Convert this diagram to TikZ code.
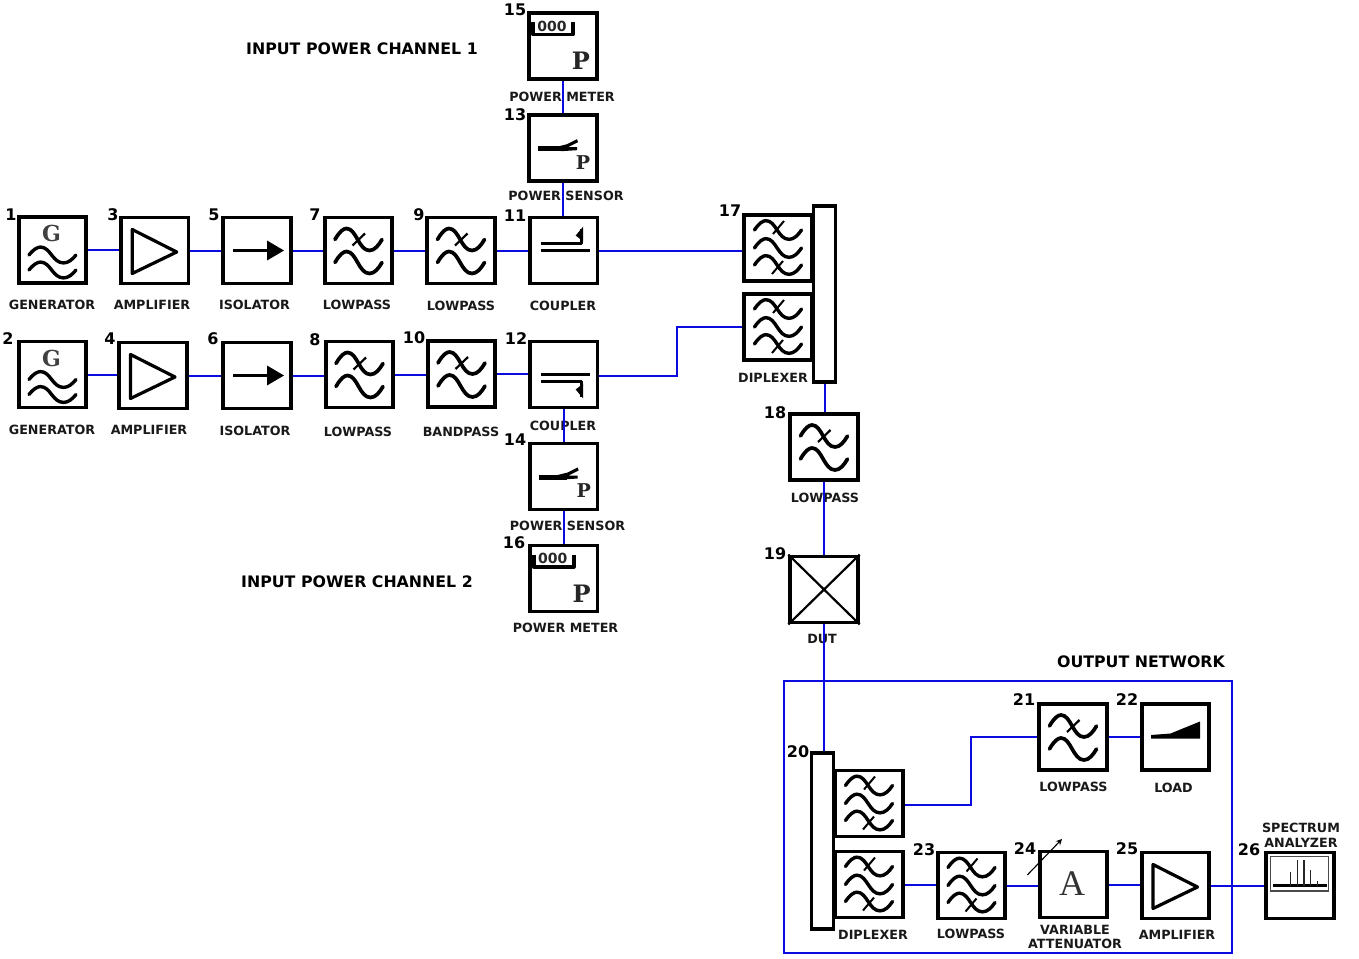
\documentclass[tikz,border=0pt]{standalone}
\usepackage{fontspec}
\setmainfont{DejaVu Sans}
\newfontfamily\glyphserif{DejaVu Serif}
\newfontfamily\timesface{Liberation Serif}
\usetikzlibrary{arrows.meta}
\definecolor{wire}{RGB}{10,10,225}
\newcommand{\wavecurve}{(-23.5,0) .. controls (-19,-8) and (-15,-11) .. (-12,-11) .. controls (-2,-11) and (0,11) .. (11,11) .. controls (16,11) and (20,6) .. (23.5,0)}
\tikzset{
  x=1pt,y=-1pt,
  blk/.style={draw=black,fill=white,line width=3.8pt,minimum width=67.5pt,minimum height=66pt,inner sep=0pt},
  barblk/.style={draw=black,fill=white,line width=3.6pt,minimum width=22pt,inner sep=0pt},
  wirel/.style={draw=wire,line width=2pt},
  framel/.style={draw=wire,line width=1.7pt},
  capt/.style={font=\bfseries\fontsize{12.7}{14.8}\selectfont,inner sep=0pt,align=center,text=black!90},
  numt/.style={font=\bfseries\fontsize{16}{18}\selectfont,inner sep=0pt},
  titlet/.style={font=\bfseries\fontsize{15.8}{18}\selectfont,inner sep=0pt},
  glyph/.style={draw=black,line width=3.2pt,line join=round},
  wavy/.style={draw=black,line width=3.7pt,line cap=round,line join=round},
  pics/lowwave/.style={code={
    \draw[wavy] [shift={(0,-11)}] \wavecurve;
    \draw[wavy] [shift={(0,12)}] \wavecurve;
    \draw[black,line width=2.2pt] (-6,-5) -- (6.5,-17);
  }},
  pics/triplewave/.style={code={
    \draw[wavy,line width=3.4pt] [shift={(0,-18)},yscale=.85] \wavecurve;
    \draw[wavy,line width=3.4pt] [shift={(0,0)},yscale=.85] \wavecurve;
    \draw[wavy,line width=3.4pt] [shift={(0,17)},yscale=.85] \wavecurve;
    \draw[black,line width=2pt] (-5,-14) -- (6,-27);
    \draw[black,line width=2pt] (-6,26) -- (5,13);
  }},
  pics/genglyph/.style={code={
    \node[inner sep=0pt,font=\glyphserif\bfseries\fontsize{22}{22}\selectfont,text=black!75] (-g) at (-1,-16.5) {G};
    \draw[wavy,line width=3.4pt] [shift={(0,5)},yscale=.72] \wavecurve;
    \draw[wavy,line width=3.4pt] [shift={(0,20)},yscale=.72] \wavecurve;
  }},
  pics/ampglyph/.style={code={
    \draw[glyph] (-22.5,-21) -- (-22.5,23) -- (22,1.5) -- cycle;
  }},
  pics/isoglyph/.style={code={
    \draw[black,line width=3.2pt] (-24,0) -- (12,0);
    \fill[black] (10,-10) -- (27,0) -- (10,10) -- cycle;
  }},
  pics/couplerglyph/.style={code={
    \draw[black,line width=3pt] (-23,0) -- (26,0);
    \draw[glyph,line width=3pt] (-23,-7) -- (18,-7) -- (18,-22);
    \fill[black] (19.5,-24) -- (12,-15) -- (19.5,-9) -- cycle;
  }},
  pics/sensorglyph/.style={code={
    \draw[black,line width=5pt] (-25,.5) -- (3,.5);
    \fill[black] (-8,-1) -- (4,-4) -- (14,-9) -- (15,-6) -- (5,-1) -- (14,-1) -- (14,2) -- (-2,3) -- cycle;
    \node[inner sep=0pt,font=\glyphserif\bfseries\fontsize{19}{19}\selectfont,text=black!85] (-p) at (20,14.5) {P};
  }},
  pics/meterglyph/.style={code={
    \draw[glyph,line width=3.6pt] (-30,-24) -- (-30,-11.5) -- (10,-11.5) -- (10,-24);
    \node[inner sep=0pt,font=\bfseries\fontsize{14}{14}\selectfont,text=black!85] (-d) at (-11,-20) {000};
    \node[inner sep=0pt,font=\glyphserif\bfseries\fontsize{24}{24}\selectfont,text=black!85] (-p) at (18,15) {P};
  }},
  pics/loadglyph/.style={code={
    \fill[black] (-24.5,-2) -- (-24.5,1.5) -- (24.5,1.5) -- (24.5,-15.5) -- (-5,-3.5) -- cycle;
  }},
  pics/analyzerglyph/.style={code={
    \draw[black!70,line width=1.6pt] (-29.5,-29) rectangle (28.5,5.5);
    \draw[black,line width=3.2pt] (-27,0) -- (27,0);
    \draw[black!85,line width=1.5pt] (-9.5,0) -- (-9.5,-13.5) (-2.7,0) -- (-2.7,-26) (4,0) -- (4,-25.5) (10.7,0) -- (10.7,-16) (17.3,0) -- (17.3,-4.5);
  }},
}
\begin{document}
\begin{tikzpicture}
\useasboundingbox[fill=white] (0,0) rectangle (1359,958);
% captions
\node[titlet] (t1) at (362,49) {INPUT POWER CHANNEL 1};
\node[titlet] (t2) at (357,581.5) {INPUT POWER CHANNEL 2};
\node[titlet] (t3) at (1141,662) {OUTPUT NETWORK};
\node[capt] (c1) at (52,305) {GENERATOR};
\node[capt] (c3) at (152,305) {AMPLIFIER};
\node[capt] (c5) at (254.5,304.5) {ISOLATOR};
\node[capt] (c7) at (357,305) {LOWPASS};
\node[capt] (c9) at (461,305.5) {LOWPASS};
\node[capt] (c11) at (563,306) {COUPLER};
\node[capt] (c15) at (562,96.5) {POWER METER};
\node[capt] (c13) at (566,196) {POWER SENSOR};
\node[capt] (c2) at (52,429.5) {GENERATOR};
\node[capt] (c4) at (149,430) {AMPLIFIER};
\node[capt] (c6) at (255,431) {ISOLATOR};
\node[capt] (c8) at (358,431.5) {LOWPASS};
\node[capt] (c10) at (461,432) {BANDPASS};
\node[capt] (c12) at (563,426) {COUPLER};
\node[capt] (c14) at (567.5,526) {POWER SENSOR};
\node[capt] (c16) at (565.5,627.5) {POWER METER};
\node[capt] (c17) at (773,378) {DIPLEXER};
\node[capt] (c18) at (825,498) {LOWPASS};
\node[capt] (c19) at (822,639) {DUT};
\node[capt] (c21) at (1073.5,787) {LOWPASS};
\node[capt] (c22) at (1173.5,788) {LOAD};
\node[capt] (c20) at (873,934.5) {DIPLEXER};
\node[capt] (c23) at (971,934) {LOWPASS};
\node[capt] (c24) at (1075,937) {VARIABLE\\ATTENUATOR};
\node[capt] (c25) at (1177,935) {AMPLIFIER};
\node[capt] (c26) at (1301,835) {SPECTRUM\\ANALYZER};
% numbers
\foreach \n/\px/\py in {1/11/215,3/113/215,5/214/215,7/315/215,9/419/215,11/515/216,15/515/10,13/515/115,2/8/339,4/110/339,6/213/339,8/315/340,10/414/338,12/516/339,14/515/440,16/514/543,17/730/211,18/775/413,19/775/554,20/798/752,21/1024/700,22/1127/700,23/924/850,24/1025/849,25/1127/849,26/1249/850}
  \node[numt] (num\n) at (\px,\py) {\n};
% frame
\node[framel,minimum width=448pt,minimum height=272pt,inner sep=0pt] (frame) at (1008,817) {};
% blocks
\node[blk] (b1) at (52.5,250) {};
\node[blk] (b3) at (154.7,250.5) {};
\node[blk] (b5) at (257,250.5) {};
\node[blk] (b7) at (358.5,250.5) {};
\node[blk] (b9) at (461,250.5) {};
\node[blk] (b11) at (563.7,250.5) {};
\node[blk] (b13) at (563,148.2) {};
\node[blk] (b15) at (563,46) {};
\node[blk] (b2) at (52.5,374.5) {};
\node[blk] (b4) at (153,375.5) {};
\node[blk] (b6) at (257,375.5) {};
\node[blk] (b8) at (359.5,374.5) {};
\node[blk] (b10) at (461.5,374) {};
\node[blk] (b12) at (563.7,374.5) {};
\node[blk] (b14) at (563.7,476.5) {};
\node[blk] (b16) at (563.7,578.5) {};
\node[barblk,minimum height=176pt] (bar17) at (824.5,294) {};
\node[blk] (b17a) at (778,248) {};
\node[blk] (b17b) at (778,327) {};
\node[barblk,minimum height=176pt] (bar20) at (822.5,841) {};
\node[blk] (b20a) at (869,803.5) {};
\node[blk] (b20b) at (869,884.5) {};
\node[blk] (b18) at (824,447) {};
\node[blk] (b19) at (824,589.5) {};
\node[blk] (b21) at (1073,737) {};
\node[blk] (b22) at (1175.5,737) {};
\node[blk] (b23) at (971.5,885.5) {};
\node[blk] (b24) at (1073.5,884.5) {};
\node[blk] (b25) at (1175.5,885.5) {};
\node[blk] (b26) at (1300,885.5) {};
% glyphs
\pic (g1) at (b1.center) {genglyph};
\pic (g2) at (b2.center) {genglyph};
\pic at (b3.center) {ampglyph};
\pic at (b4.center) {ampglyph};
\pic at (b25.center) {ampglyph};
\pic at (b5.center) {isoglyph};
\pic at (b6.center) {isoglyph};
\foreach \b in {b7,b8,b9,b10,b18,b21} \pic at (\b.center) {lowwave};
\foreach \b in {b17a,b17b,b20a,b20b,b23} \pic at (\b.center) {triplewave};
\pic at (b11.center) {couplerglyph};
\pic[yscale=-1] at (b12.center) {couplerglyph};
\pic (g13) at (b13.center) {sensorglyph};
\pic (g14) at (b14.center) {sensorglyph};
\pic (g15) at (b15.center) {meterglyph};
\pic (g16) at (b16.center) {meterglyph};
\pic at (b22.center) {loadglyph};
\pic at (b26.center) {analyzerglyph};
\draw[black,line width=2.2pt] (b19.north west) -- (b19.south east) (b19.north east) -- (b19.south west);
\node[inner sep=0pt,font=\timesface\fontsize{36}{36}\selectfont,text=black!80] (attA) at (1072,884) {A};
\coordinate (arrA) at (1027.3,875);
\coordinate (arrB) at (1062,839);
\draw[black,line width=1.1pt,-{Stealth[length=6pt,width=6pt]}] (arrA) -- (arrB);
% connectors
\foreach \a/\b in {b1/b3,b3/b5,b5/b7,b7/b9,b9/b11,b2/b4,b4/b6,b6/b8,b8/b10,b10/b12,b21/b22,b20b/b23,b23/b24,b24/b25,b25/b26}
  \draw[wirel] (\a.east) -- (\a.east -| \b.west);
\draw[wirel] (b11.east) -- (b17a.west |- b11.east);
\foreach \a/\b in {b15/b13,b13/b11,b12/b14,b14/b16,bar17/b18,b18/b19}
  \draw[wirel] (\a.south) -- (\a.south |- \b.north);
\coordinate (up17) at (677,376);
\coordinate (dn20) at (971,805);
\draw[wirel] (b12.east |- up17) -- (up17) |- (b17b.west);
\draw[wirel] (b20a.east |- dn20) -- (dn20) |- (b21.west);
\draw[wirel] (b19.south) -- (b19.south |- bar20.north);
\end{tikzpicture}
\end{document}
